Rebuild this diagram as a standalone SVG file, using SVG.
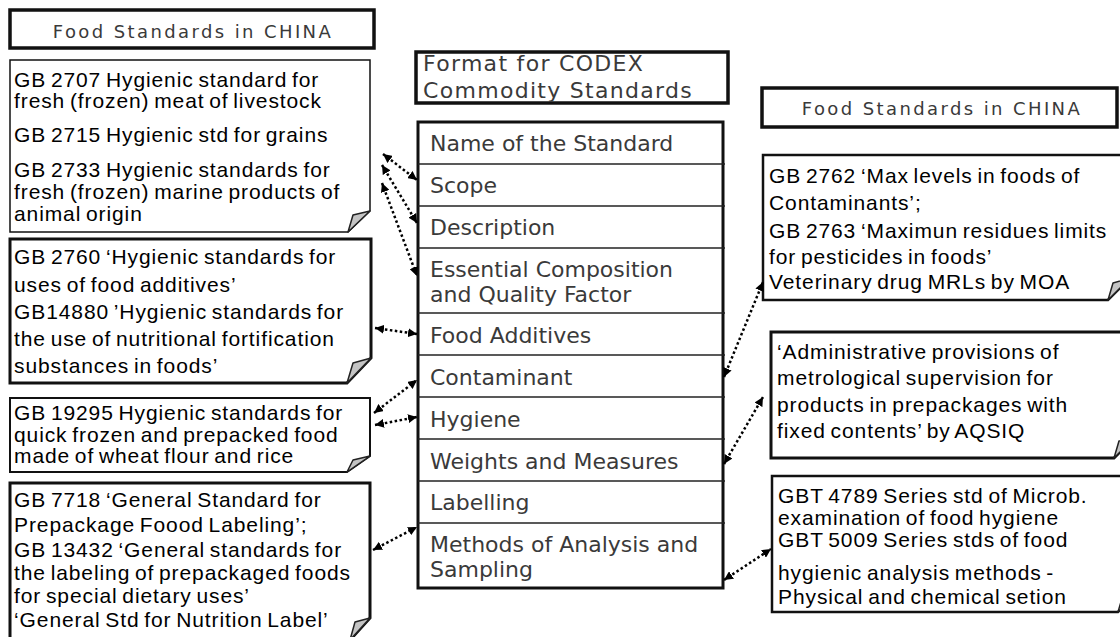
<svg xmlns="http://www.w3.org/2000/svg" width="1120" height="637" viewBox="0 0 1120 637">
<style>
.t{font-family:"Liberation Sans",Arial,sans-serif;font-size:21px;letter-spacing:0.9px;word-spacing:-2px;fill:#000}
.g{font-family:"DejaVu Sans",sans-serif;font-size:22px;fill:#3a3a3a;font-weight:400}
.h{font-family:"DejaVu Sans",sans-serif;font-size:18px;fill:#3a3a3a;font-weight:400;letter-spacing:2.4px}
.box{fill:#fff;stroke:#111}
.fold{fill:#c4c4c4;stroke:#222;stroke-width:1.5;stroke-linejoin:round}
.row{stroke:#222;stroke-width:1.5}
.c{fill:none;stroke:#000;stroke-width:2.5;stroke-dasharray:2.5 2.5;marker-start:url(#ah);marker-end:url(#ah)}
</style>
<defs>
<marker id="ah" markerUnits="userSpaceOnUse" markerWidth="10" markerHeight="9" refX="9" refY="4.5" orient="auto-start-reverse">
<path d="M0,0 L9,4.5 L0,9 Z" fill="#000"/>
</marker>
</defs>

<g id="title-left">
<rect class="box" x="10" y="10" width="364" height="38" stroke-width="3.5"/>
<text class="h" x="193" y="38" text-anchor="middle">Food Standards in CHINA</text>
</g>

<g id="title-right">
<rect class="box" x="762" y="88" width="355" height="39" stroke-width="3.5"/>
<text class="h" x="942" y="115" text-anchor="middle">Food Standards in CHINA</text>
</g>

<g id="codex-header">
<rect class="box" x="416" y="52" width="312" height="51" stroke-width="3.5"/>
<text class="g" x="423" y="71" style="letter-spacing:1.3px">Format for CODEX</text>
<text class="g" x="423" y="98" style="letter-spacing:1.3px">Commodity Standards</text>
</g>

<g id="codex-table">
<rect class="box" x="418" y="122" width="305" height="466" stroke-width="3"/>
<line class="row" x1="418" y1="164" x2="725" y2="164"/>
<line class="row" x1="418" y1="206" x2="725" y2="206"/>
<line class="row" x1="418" y1="248" x2="725" y2="248"/>
<line class="row" x1="418" y1="313" x2="725" y2="313"/>
<line class="row" x1="418" y1="355" x2="725" y2="355"/>
<line class="row" x1="418" y1="397" x2="725" y2="397"/>
<line class="row" x1="418" y1="439" x2="725" y2="439"/>
<line class="row" x1="418" y1="481" x2="725" y2="481"/>
<line class="row" x1="418" y1="523" x2="725" y2="523"/>
<text class="g" x="430" y="151">Name of the Standard</text>
<text class="g" x="430" y="193">Scope</text>
<text class="g" x="430" y="235">Description</text>
<text class="g" x="430" y="277">Essential Composition</text>
<text class="g" x="430" y="302">and Quality Factor</text>
<text class="g" x="430" y="343">Food Additives</text>
<text class="g" x="430" y="385">Contaminant</text>
<text class="g" x="430" y="427">Hygiene</text>
<text class="g" x="430" y="469">Weights and Measures</text>
<text class="g" x="430" y="510">Labelling</text>
<text class="g" x="430" y="552">Methods of Analysis and</text>
<text class="g" x="430" y="577">Sampling</text>
</g>

<g id="box-gb2707">
<path class="box" stroke-width="1.5" d="M10,60 H370 V211 L348,232 H10 Z"/>
<path class="fold" d="M348,232 L353,215 L370,211 Z"/>
<text class="t" x="14" y="87">GB 2707 Hygienic standard for</text>
<text class="t" x="14" y="108">fresh (frozen) meat of livestock</text>
<text class="t" x="14" y="142">GB 2715 Hygienic std for grains</text>
<text class="t" x="14" y="177">GB 2733 Hygienic standards for</text>
<text class="t" x="14" y="199">fresh (frozen) marine products of</text>
<text class="t" x="14" y="221">animal origin</text>
</g>

<g id="box-gb2760">
<path class="box" stroke-width="3" d="M10,239 H371 V358 L347,383 H10 Z"/>
<path class="fold" d="M347,383 L353,363 L371,358 Z"/>
<text class="t" x="14" y="264">GB 2760 ‘Hygienic standards for</text>
<text class="t" x="14" y="292">uses of food additives’</text>
<text class="t" x="14" y="319">GB14880 ’Hygienic standards for</text>
<text class="t" x="14" y="346">the use of nutritional fortification</text>
<text class="t" x="14" y="373">substances  in foods’</text>
</g>

<g id="box-gb19295">
<path class="box" stroke-width="2" d="M10,398 H370 V456 L347,472 H10 Z"/>
<path class="fold" d="M347,472 L353,460 L370,456 Z"/>
<text class="t" x="14" y="420">GB 19295 Hygienic standards for</text>
<text class="t" x="14" y="442">quick frozen and prepacked food</text>
<text class="t" x="14" y="463">made of wheat flour and rice</text>
</g>

<g id="box-gb7718">
<path class="box" stroke-width="3" d="M10,483 H370 V618 L350,640 H10 Z"/>
<path class="fold" d="M350,640 L355,622 L370,618 Z"/>
<text class="t" x="14" y="507">GB 7718 ‘General Standard for</text>
<text class="t" x="14" y="532">Prepackage Foood Labeling’;</text>
<text class="t" x="14" y="557">GB 13432 ‘General standards for</text>
<text class="t" x="14" y="580">the labeling of prepackaged foods</text>
<text class="t" x="14" y="603">for special dietary uses’</text>
<text class="t" x="14" y="627">‘General Std for Nutrition Label’</text>
</g>

<g id="box-gb2762">
<path class="box" stroke-width="2.5" d="M763,155 H1130 V278 L1108,300 H763 Z"/>
<path class="fold" d="M1108,300 L1113,283 L1130,278 Z"/>
<text class="t" x="769" y="183">GB 2762 ‘Max levels in foods of</text>
<text class="t" x="769" y="210">Contaminants’;</text>
<text class="t" x="769" y="238">GB 2763 ‘Maximun residues limits</text>
<text class="t" x="769" y="264">for pesticides in foods’</text>
<text class="t" x="769" y="289">Veterinary drug MRLs by MOA</text>
</g>

<g id="box-aqsiq">
<path class="box" stroke-width="3" d="M771,332 H1136 V436 L1114,458 H771 Z"/>
<path class="fold" d="M1114,458 L1119,441 L1136,436 Z"/>
<text class="t" x="777" y="359">‘Administrative provisions of</text>
<text class="t" x="777" y="385">metrological supervision for</text>
<text class="t" x="777" y="412">products in prepackages with</text>
<text class="t" x="777" y="438">fixed contents’ by AQSIQ</text>
</g>

<g id="box-gbt4789">
<path class="box" stroke-width="2.5" d="M772,476 H1140 V590 L1118,612 H772 Z"/>
<path class="fold" d="M1118,612 L1123,595 L1140,590 Z"/>
<text class="t" x="778" y="503">GBT 4789 Series std of  Microb.</text>
<text class="t" x="778" y="525">examination of food hygiene</text>
<text class="t" x="778" y="547">GBT 5009 Series stds of food</text>
<text class="t" x="778" y="580">hygienic analysis methods  -</text>
<text class="t" x="778" y="604">Physical and chemical setion</text>
</g>

<g id="connectors">
<line class="c" x1="383" y1="154" x2="417" y2="180"/>
<line class="c" x1="382" y1="165" x2="417" y2="223"/>
<line class="c" x1="382" y1="183" x2="417" y2="276"/>
<line class="c" x1="375" y1="328" x2="417" y2="334"/>
<line class="c" x1="374" y1="413" x2="417" y2="380"/>
<line class="c" x1="375" y1="425" x2="417" y2="417"/>
<line class="c" x1="373" y1="550" x2="417" y2="527"/>
<line class="c" x1="724" y1="377" x2="763" y2="282"/>
<line class="c" x1="724" y1="464" x2="763" y2="397"/>
<line class="c" x1="724" y1="580" x2="771" y2="549"/>
</g>
</svg>
